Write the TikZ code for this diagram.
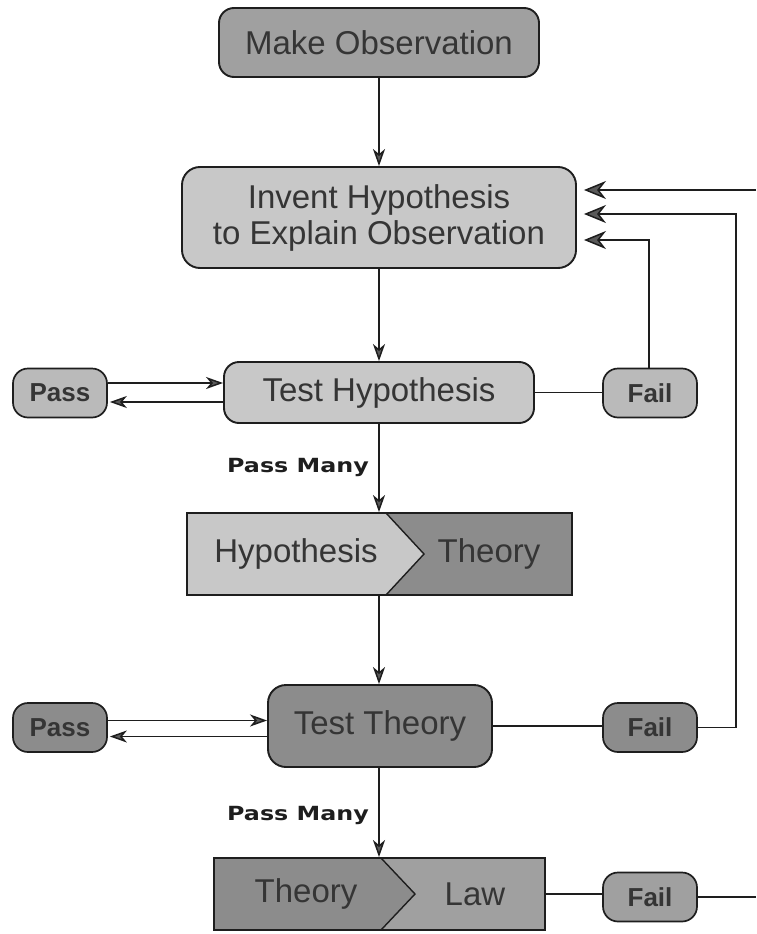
\documentclass[tikz,border=0pt]{standalone}
\usepackage{fontspec}
\setmainfont{Liberation Sans}
\newfontfamily\wideb[FakeStretch=1.22]{DejaVu Sans}
\usetikzlibrary{arrows.meta,calc}
\definecolor{txt}{HTML}{353535}
\definecolor{edge}{HTML}{1E1E1E}
\definecolor{lightbox}{HTML}{C8C8C8}
\definecolor{midbox}{HTML}{A0A0A0}
\definecolor{darkbox}{HTML}{8C8C8C}
\definecolor{tipfill}{HTML}{5A5A5A}
\begin{document}
\begin{tikzpicture}[x=1pt,y=-1pt,
  box/.style={draw=edge, line width=1.9pt, rounded corners=15pt, inner sep=0pt,
    font=\fontsize{33}{36}\selectfont, text=txt, align=center},
  pf/.style={draw=edge, line width=1.7pt, rounded corners=15pt, inner sep=0pt,
    minimum width=94pt, minimum height=49pt,
    font=\bfseries\fontsize{26}{28}\selectfont, text=txt},
  chev/.style={draw=edge, line width=1.9pt, inner sep=0pt},
  chevtext/.style={inner sep=0pt, font=\fontsize{33}{36}\selectfont, text=txt},
  plabel/.style={inner sep=0pt, anchor=east, font=\wideb\bfseries\fontsize{19.5}{22}\selectfont, text=edge},
  conn/.style={line width=1.5pt, draw=edge},
  arr/.style={conn, -{Stealth[length=17pt,width=12pt,inset=5pt,fill=tipfill]}},
  bigarr/.style={conn, -{Stealth[length=22pt,width=18pt,inset=7pt,fill=tipfill]}},
  gap/.style={shorten >=7pt},
  smallgap/.style={shorten >=2pt}
]
\useasboundingbox (0,0) rectangle (756,934);

% main boxes
\node[box, fill=midbox, minimum width=320pt, minimum height=69pt] (mo) at (379,42.5) {Make Observation};
\node[box, fill=lightbox, minimum width=394pt, minimum height=101pt, rounded corners=18pt] (inv) at (379,217.5)
  {Invent Hypothesis\\to Explain Observation};
\node[box, fill=lightbox, minimum width=310pt, minimum height=61pt] (th) at (379,392.5) {Test Hypothesis};
\node[box, fill=darkbox, minimum width=224pt, minimum height=82pt, rounded corners=18pt] (tt) at (380,726) {Test Theory};

% pass / fail boxes
\node[pf, fill=lightbox!93!black] (p1) at (60,393) {Pass};
\node[pf, fill=lightbox!93!black] (f1) at (650,393) {Fail};
\node[pf, fill=darkbox] (p2) at (60,727.5) {Pass};
\node[pf, fill=darkbox] (f2) at (650,727.5) {Fail};
\node[pf, fill=midbox] (f3) at (650,897) {Fail};

% Hypothesis > Theory box
\fill[lightbox] (187,513) rectangle (572,595);
\fill[darkbox] (386,513) -- (572,513) -- (572,595) -- (386,595) -- (424,554) -- cycle;
\node[chev, minimum width=385pt, minimum height=82pt] (ht) at (379.5,554) {};
\draw[edge, line width=1.4pt] (386,513) -- (424,554) -- (386,595);
\node[chevtext] (htl) at (296,554) {Hypothesis};
\node[chevtext] (htr) at (489,554) {Theory};

% Theory > Law box
\fill[darkbox] (214,858) rectangle (545,930);
\fill[midbox] (381,858) -- (545,858) -- (545,930) -- (381,930) -- (415,894) -- cycle;
\node[chev, minimum width=331pt, minimum height=72pt] (tl) at (379.5,894) {};
\draw[edge, line width=1.4pt] (381,858) -- (415,894) -- (381,930);
\node[chevtext] (tll) at (306,894) {Theory};
\node[chevtext] (tlr) at (475,894) {Law};

% labels
\node[plabel] (pm1) at (369,467) {Pass Many};
\node[plabel] (pm2) at (369,815) {Pass Many};

% coordinates for loop-backs
\coordinate (r1) at (756,190);
\coordinate (r2) at (736,214);
\coordinate (r3) at (649,240);
\coordinate (e3) at (756,897);

% vertical flow
\draw[arr] (mo.south) -- (inv.north);
\draw[arr] (inv.south) -- (th.north);
\draw[arr] (th.south) -- (ht.north -| th.south);
\draw[arr] (ht.south -| th.south) -- (tt.north -| th.south);
\draw[arr] (tt.south -| th.south) -- (tl.north -| th.south);

% pass loops
\draw[arr] ([yshift=10pt]p1.east) -- ([yshift=10pt]p1.east -| th.west);
\draw[arr, smallgap] ([yshift=-9pt]p1.east -| th.west) -- ([yshift=-9pt]p1.east);
\draw[arr] ([yshift=7pt]p2.east) -- ([yshift=7pt]p2.east -| tt.west);
\draw[arr, smallgap] ([yshift=-9pt]p2.east -| tt.west) -- ([yshift=-9pt]p2.east);

% fail connections
\draw[conn] (th.east) -- (th.east -| f1.west);
\draw[conn] (tt.east) -- (tt.east -| f2.west);
\draw[conn] (tl.east) -- (tl.east -| f3.west);
\draw[conn] (f3.east) -- (e3);

% loop-backs into invent
\draw[bigarr, gap] (r1) -- (r1 -| inv.east);
\draw[bigarr, gap] (f2.east) -| (r2) -- (r2 -| inv.east);
\draw[bigarr, gap] (f1.north -| r3) |- (r3) -- (r3 -| inv.east);
\end{tikzpicture}
\end{document}
